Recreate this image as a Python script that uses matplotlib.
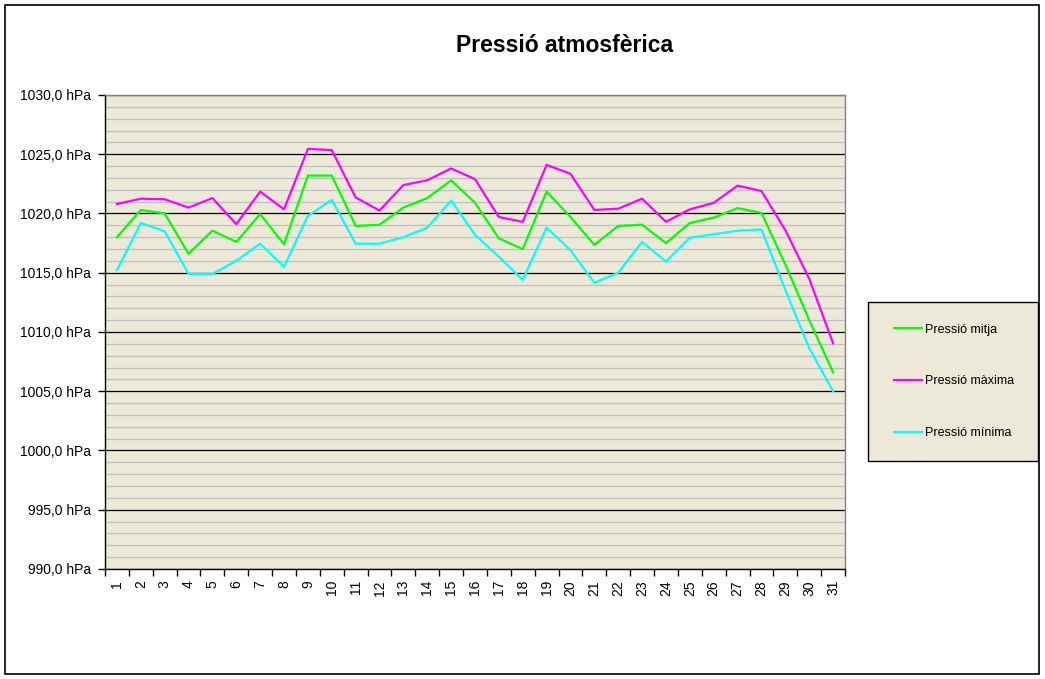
import numpy as np
import matplotlib.pyplot as plt
from matplotlib.patches import Rectangle
from matplotlib.ticker import MultipleLocator, FuncFormatter

plt.rcParams['font.family'] = ['Liberation Sans', 'DejaVu Sans']

days = np.arange(1, 32)
p_mitja = [1018.0, 1020.3, 1020.0, 1016.6, 1018.55, 1017.6, 1019.95, 1017.4, 1023.2, 1023.2,
           1018.95, 1019.05, 1020.5, 1021.3, 1022.8, 1020.9, 1017.9, 1017.0, 1021.85, 1019.7,
           1017.35, 1018.95, 1019.05, 1017.5, 1019.2, 1019.65, 1020.45, 1020.05, 1015.7, 1011.0,
           1006.6]
p_maxima = [1020.8, 1021.25, 1021.2, 1020.5, 1021.3, 1019.1, 1021.85, 1020.35, 1025.45, 1025.35,
            1021.35, 1020.25, 1022.4, 1022.8, 1023.8, 1022.9, 1019.7, 1019.3, 1024.1, 1023.35,
            1020.3, 1020.4, 1021.25, 1019.3, 1020.35, 1020.9, 1022.35, 1021.9, 1018.6, 1014.5,
            1009.05]
p_minima = [1015.2, 1019.2, 1018.5, 1014.9, 1014.9, 1016.0, 1017.45, 1015.5, 1019.8, 1021.15,
            1017.45, 1017.45, 1018.0, 1018.8, 1021.1, 1018.2, 1016.35, 1014.4, 1018.8, 1016.9,
            1014.15, 1015.0, 1017.6, 1015.95, 1017.95, 1018.25, 1018.55, 1018.65, 1013.55, 1008.65,
            1005.0]
labels = ['Pressió mitja', 'Pressió màxima', 'Pressió mínima']
colors = ['#00FF00', '#FF00FF', '#00FFFF']

W, H = 1045, 679
fig = plt.figure(figsize=(W / 100, H / 100), dpi=100)
fig.patch.set_facecolor('white')

# outer chart border
fig.add_artist(Rectangle((5 / W, 1 - 674 / H), 1034 / W, 669 / H, transform=fig.transFigure,
                         fill=False, edgecolor='black', linewidth=1.2))

bg = '#ECE9D8'
ax = fig.add_axes([105 / W, 1 - 569 / H, 740 / W, 474 / H])
ax.set_facecolor(bg)

handles = []
for vals, lab, col in zip([p_mitja, p_maxima, p_minima], labels, colors):
    h, = ax.plot(days, vals, color=col, linewidth=1.6, label=lab, zorder=3)
    handles.append(h)

ax.set_xlim(0.5, 31.5)
ax.set_ylim(990, 1030)
ax.yaxis.set_major_locator(MultipleLocator(5))
ax.yaxis.set_minor_locator(MultipleLocator(1))
ax.yaxis.set_major_formatter(FuncFormatter(lambda v, p: f'{v:.1f}'.replace('.', ',') + ' hPa'))
ax.grid(which='minor', axis='y', color='#C0C0C0', linewidth=0.9, zorder=1)
ax.grid(which='major', axis='y', color='black', linewidth=0.9, zorder=2)

# category labels between tick marks
ax.set_xticks(np.arange(0.5, 32.5, 1))
ax.set_xticklabels([])
ax.set_xticks(days, minor=True)
ax.set_xticklabels([str(d) for d in days], minor=True, rotation=90, fontsize=10)
ax.tick_params(axis='x', which='major', direction='out', length=5, width=1, color='black')
ax.tick_params(axis='x', which='minor', length=0, pad=8)
ax.tick_params(axis='y', which='major', direction='out', length=5, width=1, labelsize=10, pad=5)
ax.tick_params(axis='y', which='minor', length=0)

for side in ['top', 'right']:
    ax.spines[side].set_color('#808080')
    ax.spines[side].set_linewidth(1)
for side in ['left', 'bottom']:
    ax.spines[side].set_color('black')
    ax.spines[side].set_linewidth(1)

fig.text(565 / W, 1 - 45 / H, 'Pressió atmosfèrica', ha='center', va='center',
         fontsize=16.5, fontweight='bold')

# legend box
fig.add_artist(Rectangle((868 / W, 1 - 461 / H), 170 / W, 159 / H, transform=fig.transFigure,
                         facecolor=bg, edgecolor='black', linewidth=1, zorder=1))
leg = fig.legend(handles=handles, labels=labels, loc='center left',
                 bbox_to_anchor=(873 / W, 1 - 381.5 / H), fontsize=9,
                 frameon=False, labelspacing=3.2, borderpad=1.7, handlelength=2.2,
                 handletextpad=0.25, borderaxespad=0)
leg.set_zorder(2)

fig.savefig('out.png', dpi=100)
